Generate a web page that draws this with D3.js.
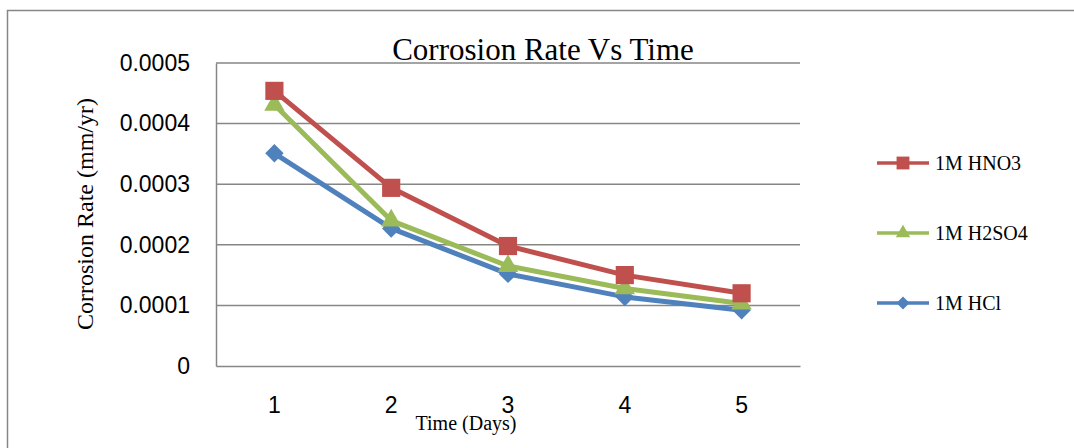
<!DOCTYPE html>
<html>
<head>
<meta charset="utf-8">
<script src="https://cdn.jsdelivr.net/npm/d3@7"></script>
<style>
  body { margin: 0; background: #fff; }
  svg { display: block; }
</style>
</head>
<body>
<div id="chart"></div>
<script>
// chart data
const days = ["1", "2", "3", "4", "5"];
const hno3 = [0.000454, 0.000294, 0.000198, 0.000150, 0.000120];
const h2so4 = [0.000431, 0.000240, 0.000165, 0.000128, 0.000103];
const hcl = [0.000351, 0.000227, 0.000152, 0.000114, 0.000092];
const yTicks = [0, 0.0001, 0.0002, 0.0003, 0.0004, 0.0005];
const seriesNames = ["1M HNO3", "1M H2SO4", "1M HCl"];

const W = 1074, H = 448;
const margin = { top: 63, left: 216, right: 274, bottom: 82 };
const width = W - margin.left - margin.right,
    height = H - margin.top - margin.bottom;

const grey = "#868686";
const serif = "'Liberation Serif', 'Times New Roman', serif";
const sans = "'Liberation Sans', Arial, sans-serif";

// diamond = square turned 45 degrees
const series = [
    { name: seriesNames[0], values: hno3, color: "#C0504D", shape: d3.symbolSquare, size: 330, rot: 0 },
    { name: seriesNames[1], values: h2so4, color: "#9BBB59", shape: d3.symbolTriangle, size: 180, rot: 0 },
    { name: seriesNames[2], values: hcl, color: "#4F81BD", shape: d3.symbolSquare, size: 170, rot: 45 }
];

const svg = d3.select("#chart").append("svg")
    .attr("width", W)
    .attr("height", H);

// outer chart border (right and bottom are off-canvas in the reference)
svg.append("rect")
    .attr("x", 7.5).attr("y", 10.5)
    .attr("width", W + 20).attr("height", H + 20)
    .attr("fill", "none")
    .attr("stroke", grey)
    .attr("stroke-width", 1.5);

const x = d3.scaleBand().domain(days).range([0, width]);
const y = d3.scaleLinear().domain([0, 0.0005]).range([height, 0]);

const g = svg.append("g")
    .attr("transform", "translate(" + margin.left + "," + margin.top + ")");

// gridlines
g.selectAll(".grid")
    .data(yTicks.slice(1))
    .enter().append("line")
    .attr("class", "grid")
    .attr("x1", 0).attr("x2", width)
    .attr("y1", d => y(d)).attr("y2", d => y(d))
    .attr("stroke", grey)
    .attr("stroke-width", 1.5);

// y axis
const yAxis = g.append("g")
    .call(d3.axisLeft(y).tickValues(yTicks).tickSize(0).tickPadding(26)
        .tickFormat(d => d === 0 ? "0" : d3.format(".4f")(d)));
yAxis.select(".domain").attr("stroke", grey).attr("stroke-width", 1.5);
yAxis.selectAll("text")
    .attr("font-family", sans)
    .attr("font-size", "23px")
    .attr("fill", "#000");

// x axis
const xAxis = g.append("g")
    .attr("transform", "translate(0," + height + ")")
    .call(d3.axisBottom(x).tickSize(0).tickPadding(31));
xAxis.select(".domain").attr("stroke", grey).attr("stroke-width", 1.5);
xAxis.selectAll("text")
    .attr("font-family", sans)
    .attr("font-size", "23px")
    .attr("fill", "#000");

// title
svg.append("text")
    .attr("x", 543)
    .attr("y", 60)
    .attr("text-anchor", "middle")
    .attr("font-family", serif)
    .attr("font-size", "31px")
    .text("Corrosion Rate Vs Time");

// axis titles
svg.append("text")
    .attr("transform", "translate(93,214) rotate(-90)")
    .attr("text-anchor", "middle")
    .attr("font-family", serif)
    .attr("font-size", "24px")
    .text("Corrosion Rate (mm/yr)");

svg.append("text")
    .attr("x", 466)
    .attr("y", 430)
    .attr("text-anchor", "middle")
    .attr("font-family", serif)
    .attr("font-size", "20px")
    .text("Time (Days)");

// lines and markers (draw HCl first so HNO3 sits on top like the reference)
const line = d3.line()
    .x((d, i) => x(days[i]) + x.bandwidth() / 2)
    .y(d => y(d));

series.slice().reverse().forEach(s => {
    g.append("path")
        .datum(s.values)
        .attr("fill", "none")
        .attr("stroke", s.color)
        .attr("stroke-width", 5)
        .attr("stroke-linejoin", "round")
        .attr("d", line);
});
series.slice().reverse().forEach(s => {
    g.selectAll(null)
        .data(s.values)
        .enter().append("path")
        .attr("transform", (d, i) => "translate(" + (x(days[i]) + x.bandwidth() / 2) + "," + y(d) + ") rotate(" + s.rot + ")")
        .attr("d", d3.symbol().type(s.shape).size(s.size))
        .attr("fill", s.color);
});

// legend
const legend = svg.append("g").attr("transform", "translate(877,163)");
const item = legend.selectAll(".item")
    .data(series)
    .enter().append("g")
    .attr("class", "item")
    .attr("transform", (d, i) => "translate(0," + i * 70 + ")");
item.append("line")
    .attr("x1", 0).attr("x2", 52)
    .attr("stroke", d => d.color)
    .attr("stroke-width", 3.5);
item.append("path")
    .attr("transform", d => "translate(26,0) rotate(" + d.rot + ")")
    .attr("d", d => d3.symbol().type(d.shape).size(d.size * 0.5)())
    .attr("fill", d => d.color);
item.append("text")
    .attr("x", 58)
    .attr("y", 7)
    .attr("font-family", serif)
    .attr("font-size", "20px")
    .text(d => d.name);
</script>
</body>
</html>
